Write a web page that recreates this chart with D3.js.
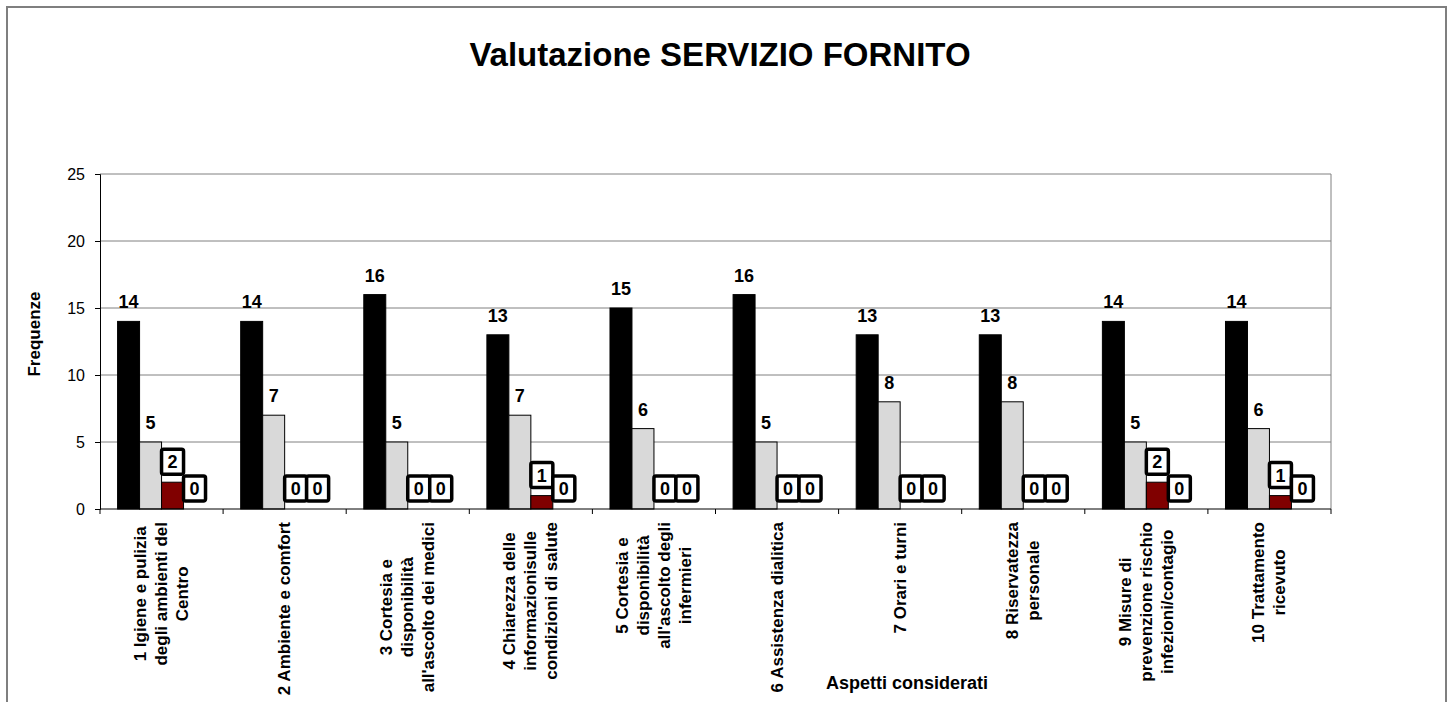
<!DOCTYPE html>
<html>
<head>
<meta charset="utf-8">
<script src="https://cdn.jsdelivr.net/npm/d3@7"></script>
<style>
body { margin: 0; background: #fff; }
svg { display: block; font-family: "Liberation Sans", Arial, sans-serif; }
</style>
</head>
<body>
<svg id="chart" width="1453" height="702"></svg>
<script>
// dati
var categorie = [
  ["1 Igiene e pulizia", "degli ambienti del", "Centro"],
  ["2 Ambiente e comfort"],
  ["3 Cortesia e", "disponibilità", "all'ascolto dei medici"],
  ["4 Chiarezza delle", "informazionisulle", "condizioni di salute"],
  ["5 Cortesia e", "disponibilità", "all'ascolto degli", "infermieri"],
  ["6 Assistenza dialitica"],
  ["7 Orari e turni"],
  ["8 Riservatezza", "personale"],
  ["9 Misure di", "prevenzione rischio", "infezioni/contagio"],
  ["10 Trattamento", "ricevuto"]
]
var serie1 = [14, 14, 16, 13, 15, 16, 13, 13, 14, 14]
var serie2 = [5, 7, 5, 7, 6, 5, 8, 8, 5, 6]
var serie3 = [2, 0, 0, 1, 0, 0, 0, 0, 2, 1]
var serie4 = [0, 0, 0, 0, 0, 0, 0, 0, 0, 0]
var yTicks = [0, 5, 10, 15, 20, 25]

var serie = [serie1, serie2, serie3, serie4]
var colori = ['#000000', '#d9d9d9', '#800000', '#ffffff']
var boxed = [false, false, true, true]   // etichette con riquadro

var svg = d3.select('#chart')
var plot = {left: 100, right: 1331, top: 174, bottom: 509}

// cornice esterna
svg.append('rect')
    .attr('x', 7).attr('y', 7).attr('width', 1439).attr('height', 720)
    .attr('fill', 'none').attr('stroke', '#7f7f7f').attr('stroke-width', 2)

svg.append('text')
    .attr('x', 720).attr('y', 66)
    .attr('text-anchor', 'middle')
    .attr('font-size', 33).attr('font-weight', 'bold')
    .text('Valutazione SERVIZIO FORNITO')

var x0 = d3.scaleBand().domain(d3.range(categorie.length)).range([plot.left, plot.right])
var x1 = d3.scaleBand().domain(d3.range(serie.length)).range([0, x0.bandwidth()]).paddingOuter(0.8)
var y = d3.scaleLinear().domain([0, 25]).range([plot.bottom, plot.top])

// griglia
svg.append('g').selectAll('line').data(yTicks.slice(1)).enter().append('line')
    .attr('x1', plot.left).attr('x2', plot.right)
    .attr('y1', function(d){return y(d)}).attr('y2', function(d){return y(d)})
    .attr('stroke', '#808080').attr('stroke-width', 1)
svg.append('line')
    .attr('x1', plot.right).attr('x2', plot.right)
    .attr('y1', plot.top).attr('y2', plot.bottom)
    .attr('stroke', '#808080')

// asse y
var yAxis = svg.append('g')
    .attr('transform', 'translate(' + plot.left + ',0)')
    .call(d3.axisLeft(y).tickValues(yTicks).tickSize(5).tickPadding(10))
yAxis.select('.domain').attr('stroke', '#000')
yAxis.selectAll('.tick line').attr('stroke', '#000')
yAxis.selectAll('text').attr('font-size', 16).attr('font-family', 'Liberation Sans, Arial, sans-serif').attr('fill', '#000')

// barre
var gruppi = svg.append('g').selectAll('g').data(categorie).enter().append('g')
    .attr('transform', function(d, i){return 'translate(' + x0(i) + ',0)'})

gruppi.selectAll('rect').data(function(d, i){return serie.map(function(s, k){return {k: k, v: s[i]}})})
    .enter().append('rect')
    .attr('x', function(d){return x1(d.k)})
    .attr('y', function(d){return y(d.v)})
    .attr('width', x1.bandwidth())
    .attr('height', function(d){return y(0) - y(d.v)})
    .attr('fill', function(d){return colori[d.k]})
    .attr('stroke', '#000').attr('stroke-width', 1)

// etichette semplici
gruppi.selectAll('text.val').data(function(d, i){return serie.map(function(s, k){return {k: k, v: s[i]}}).filter(function(d){return !boxed[d.k]})})
    .enter().append('text').attr('class', 'val')
    .attr('x', function(d){return x1(d.k) + x1.bandwidth() / 2})
    .attr('y', function(d){return y(d.v) - 13})
    .attr('text-anchor', 'middle')
    .attr('font-size', 18).attr('font-weight', 'bold')
    .text(function(d){return d.v})

// etichette con riquadro
var box = gruppi.selectAll('g.box').data(function(d, i){return serie.map(function(s, k){return {k: k, v: s[i]}}).filter(function(d){return boxed[d.k]})})
    .enter().append('g').attr('class', 'box')
    .attr('transform', function(d){return 'translate(' + (x1(d.k) + x1.bandwidth() / 2) + ',' + (y(d.v) - 6) + ')'})
box.append('rect')
    .attr('x', -11).attr('y', -27).attr('width', 22).attr('height', 25).attr('rx', 2)
    .attr('fill', '#fff').attr('stroke', '#000').attr('stroke-width', 3.5)
box.append('text')
    .attr('y', -8)
    .attr('text-anchor', 'middle')
    .attr('font-size', 18).attr('font-weight', 'bold')
    .text(function(d){return d.v})

// asse x
svg.append('line')
    .attr('x1', plot.left).attr('x2', plot.right)
    .attr('y1', plot.bottom).attr('y2', plot.bottom)
    .attr('stroke', '#000')
svg.append('g').selectAll('line').data(d3.range(categorie.length + 1)).enter().append('line')
    .attr('x1', function(d){return plot.left + d * x0.step()})
    .attr('x2', function(d){return plot.left + d * x0.step()})
    .attr('y1', plot.bottom).attr('y2', plot.bottom + 5)
    .attr('stroke', '#000')

// etichette categorie, ruotate
var lab = svg.append('g').selectAll('g').data(categorie).enter().append('g')
    .attr('transform', function(d, i){return 'translate(' + (x0(i) + x0.bandwidth() / 2) + ',522) rotate(-90)'})
lab.each(function(righe) {
    var g = d3.select(this)
    var n = righe.length
    var t = g.selectAll('text').data(righe).enter().append('text')
        .attr('y', function(d, j){return (j - (n - 1) / 2) * 21})
        .attr('dominant-baseline', 'central')
        .attr('text-anchor', 'middle')
        .attr('font-size', 17).attr('font-weight', 'bold')
        .text(function(d){return d})
    var w = 0
    t.each(function(){ w = Math.max(w, this.getComputedTextLength()) })
    t.attr('x', -w / 2)
})

// titoli assi
svg.append('text')
    .attr('transform', 'translate(40,334) rotate(-90)')
    .attr('text-anchor', 'middle')
    .attr('font-size', 17).attr('font-weight', 'bold')
    .text('Frequenze')
svg.append('text')
    .attr('x', 907).attr('y', 689)
    .attr('text-anchor', 'middle')
    .attr('font-size', 18).attr('font-weight', 'bold')
    .text('Aspetti considerati')
</script>
</body>
</html>
